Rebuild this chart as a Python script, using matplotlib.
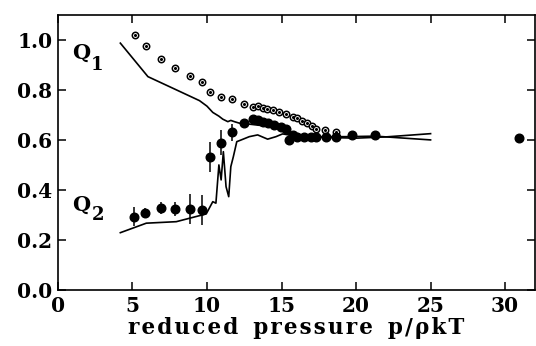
import numpy as np
import matplotlib.pyplot as plt

# open circles (Q1 data)
q1_x = [5.15, 5.9, 6.9, 7.87, 8.87, 9.65, 10.2, 10.95, 11.7, 12.5, 13.07, 13.4, 13.73,
        14.05, 14.4, 14.85, 15.3, 15.74, 16.07, 16.4, 16.74, 17.03, 17.3, 17.93, 18.64]
q1_y = [1.02, 0.977, 0.923, 0.889, 0.855, 0.833, 0.79, 0.77, 0.764, 0.744, 0.732, 0.736, 0.727,
        0.723, 0.72, 0.713, 0.704, 0.693, 0.687, 0.677, 0.669, 0.657, 0.643, 0.64, 0.633]

# filled circles (Q2 data) with error bars
q2_x = [5.08, 5.87, 6.89, 7.87, 8.87, 9.65, 10.19, 10.92, 11.66, 12.5, 13.07, 13.4, 13.73,
        14.07, 14.5, 14.96, 15.3, 15.5, 15.74, 16.07, 16.5, 16.96, 17.3, 17.97, 18.64, 19.75,
        21.3, 30.95]
q2_y = [0.293, 0.307, 0.329, 0.324, 0.324, 0.321, 0.531, 0.589, 0.63, 0.669, 0.684, 0.678, 0.673,
        0.667, 0.66, 0.651, 0.643, 0.60, 0.62, 0.613, 0.611, 0.611, 0.611, 0.611, 0.613, 0.62,
        0.62, 0.607]
q2_err = [0.037, 0.02, 0.024, 0.027, 0.059, 0.06, 0.06, 0.05, 0.033, 0, 0, 0, 0,
          0, 0, 0, 0, 0, 0, 0, 0, 0, 0, 0, 0, 0, 0, 0]

# simulation curves
line1_x = [4.19, 6.04, 7.7, 9.5, 10.0, 10.39, 10.8, 11.06, 11.4, 11.6, 11.84, 12.17, 13.0,
           14.0, 14.85, 15.5, 16.3, 17.1, 19.3, 21.3, 23.0, 25.0]
line1_y = [0.987, 0.853, 0.807, 0.757, 0.735, 0.71, 0.695, 0.683, 0.673, 0.678, 0.673, 0.667, 0.662,
           0.655, 0.647, 0.627, 0.62, 0.613, 0.613, 0.615, 0.608, 0.60]
line2_x = [4.19, 5.93, 7.94, 9.95, 10.39, 10.6, 10.8, 10.95, 11.1, 11.28, 11.46, 11.6, 11.77,
           12.0, 12.3, 12.84, 13.4, 14.07, 14.63, 15.07, 16.0, 18.0, 20.0, 22.0, 25.0]
line2_y = [0.229, 0.267, 0.273, 0.304, 0.353, 0.347, 0.5, 0.44, 0.553, 0.413, 0.373, 0.493, 0.533,
           0.593, 0.60, 0.613, 0.62, 0.603, 0.613, 0.624, 0.615, 0.61, 0.607, 0.612, 0.625]

xticks = [0, 5, 10, 15, 20, 25, 30]
yticks = [0.0, 0.2, 0.4, 0.6, 0.8, 1.0]

HS = '\u200a'  # hair space: the original label is letter-spaced


def main():
    plt.rcParams['font.family'] = 'DejaVu Serif'
    plt.rcParams['font.weight'] = 'bold'

    fig = plt.figure(figsize=(5.36, 3.46), dpi=100)
    ax = fig.add_axes([0.108, 0.162, 0.89, 0.795])

    ax.plot(line1_x, line1_y, color='black', lw=1.2)
    ax.plot(line2_x, line2_y, color='black', lw=1.2)

    ax.plot(q1_x, q1_y, 'o', ms=4.6, mfc='white', mec='black', mew=1.1)
    ax.plot(q1_x, q1_y, 'o', ms=1.2, color='black')

    ax.errorbar(q2_x, q2_y, yerr=q2_err, fmt='o', ms=6.2, color='black',
                elinewidth=1.1, capsize=0)

    ax.text(1.55, 0.95, 'Q', fontsize=15, fontweight='bold', ha='center', va='center')
    ax.text(2.62, 0.90, '1', fontsize=13, fontweight='bold', ha='center', va='center')
    ax.text(1.57, 0.34, 'Q', fontsize=15, fontweight='bold', ha='center', va='center')
    ax.text(2.68, 0.30, '2', fontsize=13, fontweight='bold', ha='center', va='center')

    ax.set_xlim(0, 32)
    ax.set_ylim(0, 1.1)
    ax.set_xticks(xticks)
    ax.set_yticks(yticks)
    ax.set_xticklabels([str(t) for t in xticks])
    ax.set_yticklabels(['%.1f' % t for t in yticks])
    ax.tick_params(direction='in', length=6, width=1.1, top=True, right=True,
                   labelsize=14.5, pad=4)
    for s in ax.spines.values():
        s.set_linewidth(1.2)

    words = ['reduced', 'pressure', 'p/\u03c1kT']
    label = '  '.join(HS.join(w) for w in words)
    ax.set_xlabel(label, fontsize=15.5, fontweight='bold', labelpad=1)

    fig.savefig('out.png', dpi=100)


if __name__ == "__main__":
    main()
